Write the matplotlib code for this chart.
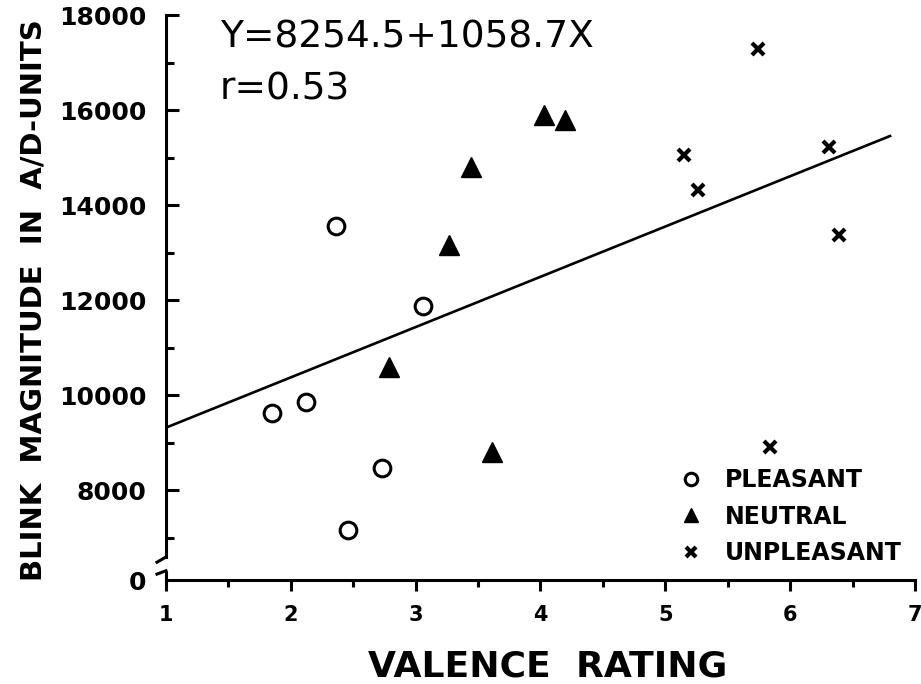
import matplotlib
matplotlib.use("Agg")
import matplotlib.pyplot as plt
import matplotlib.transforms as mtransforms
import numpy as np

# ======================
# DATA
# ======================
pleasant_x = [1.85, 2.12, 2.36, 2.46, 2.73, 3.06]
pleasant_y = [9630, 9860, 13560, 7160, 8460, 11880]

neutral_x = [2.79, 3.27, 3.44, 3.61, 4.03, 4.20]
neutral_y = [10590, 13160, 14810, 8810, 15890, 15780]

unpleasant_x = [5.15, 5.26, 5.74, 5.84, 6.31, 6.39]
unpleasant_y = [15050, 14320, 17280, 8910, 15230, 13370]

intercept = 8254.5
slope = 1058.7
r_value = 0.53
line_x = [1.0, 6.8]

x_ticks = [1, 2, 3, 4, 5, 6, 7]
y_ticks = [8000, 10000, 12000, 14000, 16000, 18000]
y_zero = 6105   # where the broken axis puts its "0"

# ======================
# FIGURE
# ======================
fig = plt.figure(figsize=(9.21, 6.84), dpi=100)
ax = fig.add_axes([0.1802, 0.152, 0.8133, 0.826])

ax.plot(pleasant_x, pleasant_y, "o", ms=12, mfc="white", mec="black", mew=2.2,
        ls="none", label="PLEASANT", clip_on=False)
ax.plot(neutral_x, neutral_y, "^", ms=14, mfc="black", mec="black", mew=1,
        ls="none", label="NEUTRAL", clip_on=False)
ax.plot(unpleasant_x, unpleasant_y, "x", ms=9, mec="black", mew=3,
        ls="none", label="UNPLEASANT", clip_on=False)

fit_y = [intercept + slope * v for v in line_x]
ax.plot(line_x, fit_y, color="black", lw=1.9)

ax.set_xlim(1, 7)
ax.set_ylim(y_zero, 18000)

# ticks
ax.set_xticks(x_ticks)
ax.set_xticklabels([str(t) for t in x_ticks])
ax.set_xticks(np.arange(1.5, 7, 1.0), minor=True)
ax.set_yticks([y_zero] + y_ticks)
ax.set_yticklabels(["0"] + [str(t) for t in y_ticks])
ax.set_yticks(np.arange(7000, 18000, 2000), minor=True)

ax.tick_params(axis="x", which="major", direction="out", length=8, width=2.2,
               pad=10, labelsize=15)
ax.tick_params(axis="x", which="minor", direction="out", length=5, width=2.2)
ax.tick_params(axis="y", which="major", direction="in", length=9, width=2.2,
               pad=14, labelsize=18)
ax.tick_params(axis="y", which="minor", direction="in", length=6, width=2.2)
ax.yaxis.get_major_ticks()[0].tick1line.set_visible(False)
for lab in ax.get_xticklabels() + ax.get_yticklabels():
    lab.set_fontweight("bold")

# spines / broken y axis
for s in ["top", "right"]:
    ax.spines[s].set_visible(False)
ax.spines["bottom"].set_linewidth(2.2)
ax.spines["left"].set_linewidth(2.2)
ax.spines["left"].set_bounds(6590, 18000)

trans = mtransforms.blended_transform_factory(ax.transAxes, ax.transData)
ax.plot([0, 0], [y_zero, 6300], color="black", lw=2.2, transform=trans,
        clip_on=False, solid_capstyle="butt")
ax.plot([0, -0.012], [6590, 6480], color="black", lw=2.2, transform=trans,
        clip_on=False)
ax.plot([0, -0.012], [6300, 6230], color="black", lw=2.2, transform=trans,
        clip_on=False)

# equation text
ax.text(0.072, 0.943, "Y=%.1f+%.1fX" % (intercept, slope), transform=ax.transAxes,
        fontsize=27, va="baseline", ha="left")
ax.text(0.072, 0.850, "r=%.2f" % r_value, transform=ax.transAxes,
        fontsize=27, va="baseline", ha="left")

# legend
leg = ax.legend(loc="upper left", bbox_to_anchor=(0.685, 0.198), frameon=False,
                prop={"weight": "bold", "size": 17}, markerscale=0.75,
                handlelength=1.0, handletextpad=0.95, labelspacing=0.53,
                borderpad=0, borderaxespad=0)

# axis labels
fig.text(34 / 921, 0.561, "BLINK  MAGNITUDE  IN  A/D-UNITS", rotation=90,
         ha="center", va="center", fontsize=21, fontweight="bold")
fig.text(0.595, 0.0105, "VALENCE  RATING", ha="center", va="baseline",
         fontsize=26, fontweight="bold")

plt.savefig("out.png", dpi=100)
plt.close()
